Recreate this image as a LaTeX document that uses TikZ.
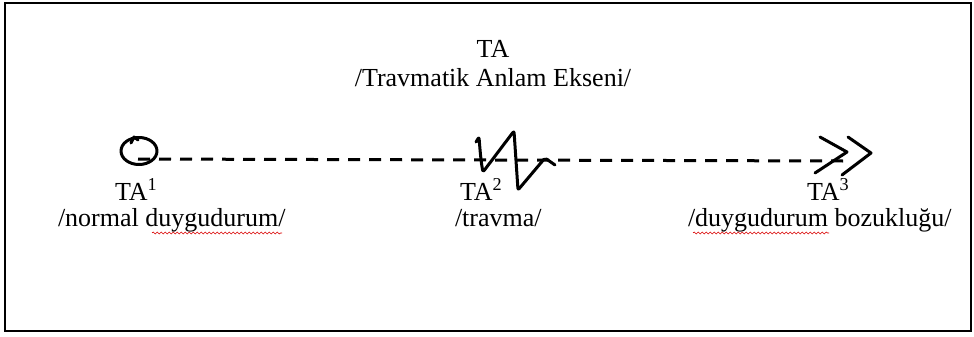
\documentclass[tikz,border=0pt]{standalone}
\usepackage{fontspec}
\setmainfont{Liberation Serif}
\usetikzlibrary{decorations.pathmorphing}
\begin{document}
\begin{tikzpicture}[x=1pt,y=-1pt,
  txt/.style={inner sep=0pt,outer sep=0pt,anchor=base west,font=\fontsize{26}{29}\selectfont},
  ctxt/.style={txt,anchor=base},
  hand/.style={line width=3pt,line cap=round,line join=round},
  axis/.style={line width=3pt,dash pattern=on 12pt off 9pt},
  spell/.style={red!85!black,line width=0.6pt,decorate,decoration={snake,segment length=4pt,amplitude=1pt}}]
\useasboundingbox (0,0) rectangle (974,337);
\draw[line width=2pt] (5,3) rectangle (971,331);
% title
\node[ctxt] (ta) at (493,57) {TA};
\node[ctxt] (tatitle) at (493,86) {/Travmatik Anlam Ekseni/};
% axis
\coordinate (s) at (138,159);
\coordinate (e) at (843,161);
\draw[axis] (s) -- (e);
% start circle
\draw[hand] (139,151) ellipse [x radius=18, y radius=13.5];
\draw[hand] (131,143) -- (134,137) -- (138,140);
% trauma zigzag
\draw[hand,rounded corners=2pt] (476,142) -- (479,137) .. controls (480,150) and (481,162) .. (483,172) -- (514,131) -- (518,190) -- (545,158) -- (555,165);
% end chevrons
\draw[hand] (820,137) -- (847,152) -- (815,173);
\draw[hand] (848,137) -- (871,153) -- (842,175);
% labels
\node[txt] (ta1) at (115,200) {TA\textsuperscript{1}};
\node[txt] (l1) at (58,226) {/normal duygudurum/};
\node[txt] (ta2) at (460,200) {TA\textsuperscript{2}};
\node[txt] (l2) at (455,226) {/travma/};
\node[txt] (ta3) at (807,200) {TA\textsuperscript{3}};
\node[txt] (l3) at (688,226) {/duygudurum bozukluğu/};
% spell-check underlines
\draw[spell] (152,233) -- (282,233);
\draw[spell] (693,233) -- (829,233);
\end{tikzpicture}
\end{document}
